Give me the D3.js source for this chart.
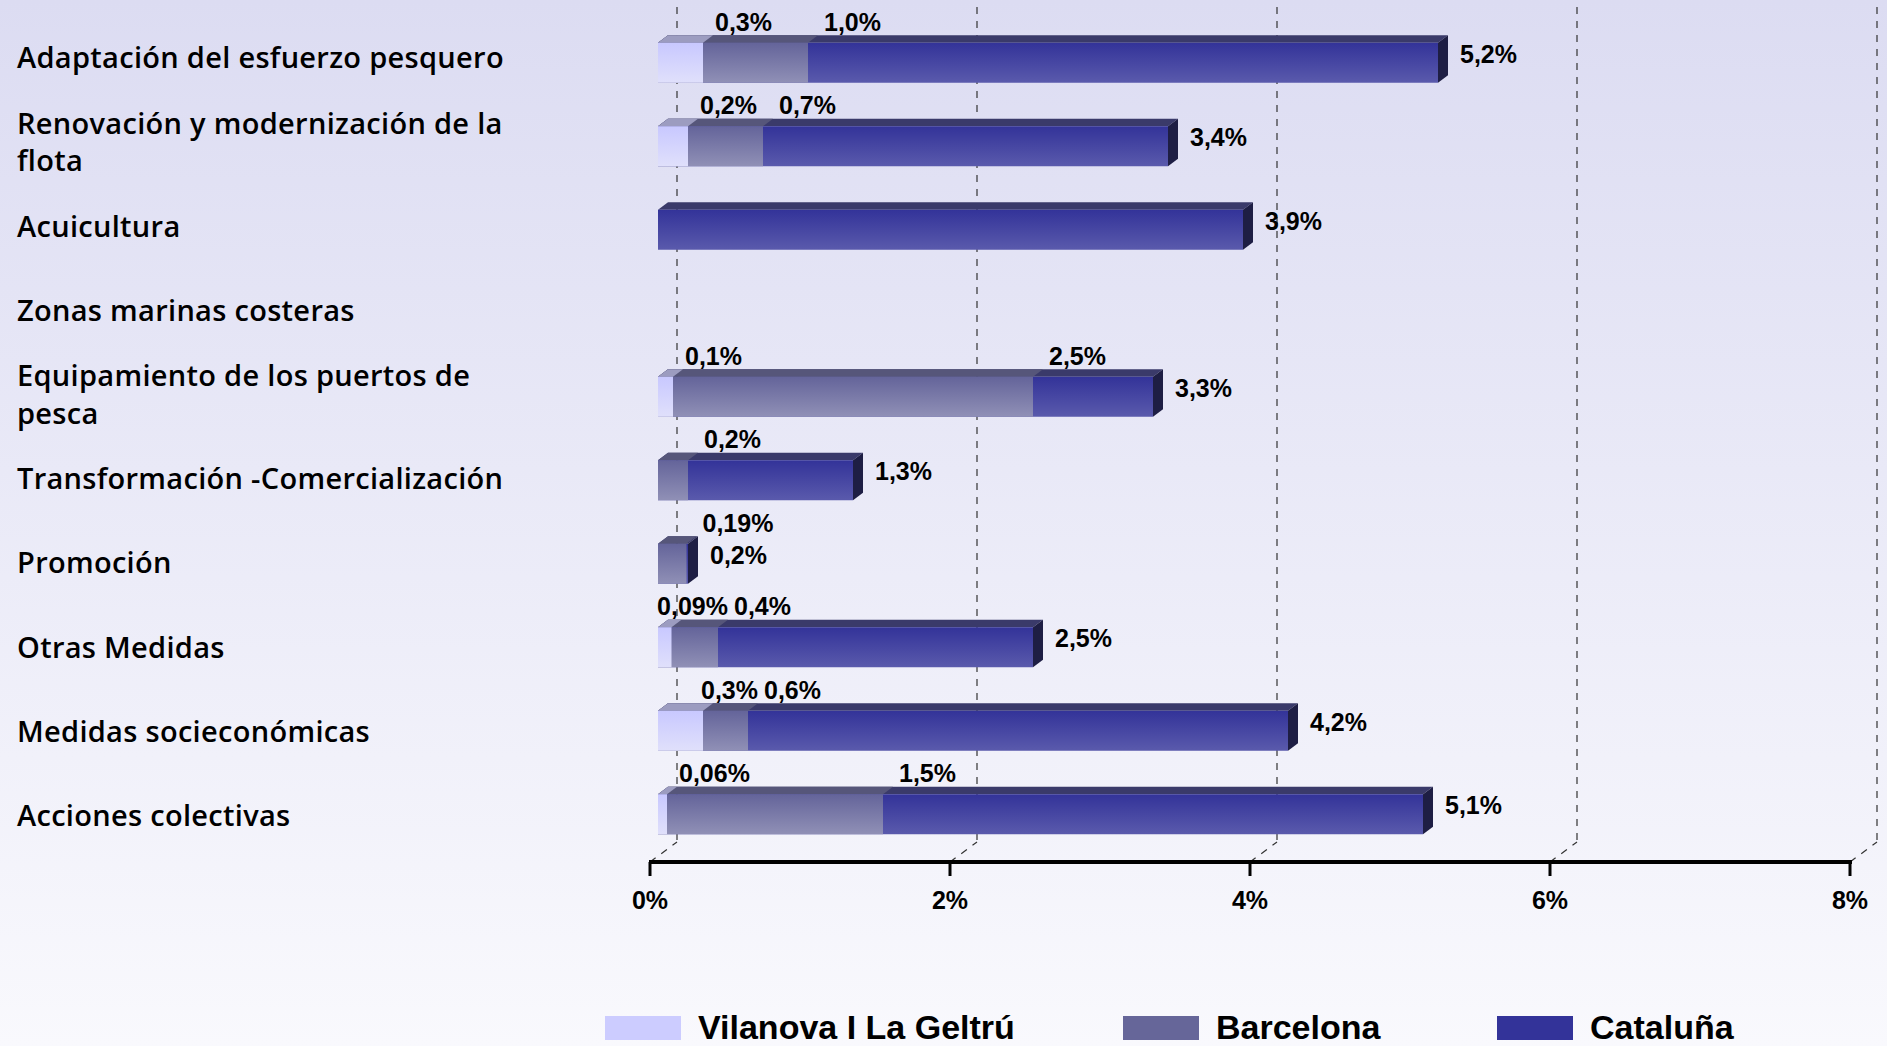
<!DOCTYPE html>
<html>
<head>
<meta charset="utf-8">
<script src="https://cdn.jsdelivr.net/npm/d3@7"></script>
<style>
  html, body { margin: 0; padding: 0; }
  body { width: 1887px; height: 1046px; overflow: hidden; }
  .cat-label { font-family: "Open Sans", Lato, sans-serif; font-weight: 600; font-size: 29px; letter-spacing: 0.3px; fill: #000; }
  .val-label { font-family: "Liberation Sans", Arial, sans-serif; font-weight: 700; font-size: 25px; fill: #000; }
  .tick-label { font-family: "Liberation Sans", Arial, sans-serif; font-weight: 700; font-size: 25px; fill: #000; }
  .legend-label { font-family: "Liberation Sans", Arial, sans-serif; font-weight: 700; font-size: 34px; fill: #000; }
</style>
</head>
<body>
<svg id="chart" width="1887" height="1046"></svg>
<script>
// ==================== Data ====================
var categories = [
	"Adaptación del esfuerzo pesquero",
	"Renovación y modernización de la flota",
	"Acuicultura",
	"Zonas marinas costeras",
	"Equipamiento de los puertos de pesca",
	"Transformación -Comercialización",
	"Promoción",
	"Otras Medidas",
	"Medidas socieconómicas",
	"Acciones colectivas"
];
var seriesNames = ["Vilanova I La Geltrú", "Barcelona", "Cataluña"];
// values in %, null = no bar
var vilanova  = [0.3, 0.2, null, null, 0.1, null, null, 0.09, 0.3, 0.06];
var barcelona = [1.0, 0.7, null, null, 2.5, 0.2, 0.19, 0.4, 0.6, 1.5];
var cataluna  = [5.2, 3.4, 3.9, null, 3.3, 1.3, 0.2, 2.5, 4.2, 5.1];
var xTicks = [0, 2, 4, 6, 8];

var seriesValues = [vilanova, barcelona, cataluna];
var legendColors = ["#ccccff", "#666699", "#333399"];
var frontColors = [["#c8c8ff", "#e0e0fb"], ["#64649a", "#9090b6"], ["#333399", "#5a5aac"]];
var topColors = ["#9c9cc0", "#56567a", "#3a3a6a"];
var sideColor = "#1e1e44";

var svg = d3.select("#chart");

// ==================== Background ====================
var defs = svg.append("defs");
var bg = defs.append("linearGradient").attr("id", "bg").attr("x1", 0).attr("y1", 0).attr("x2", 0).attr("y2", 1);
bg.append("stop").attr("offset", "0%").attr("stop-color", "#dcdcf2");
bg.append("stop").attr("offset", "100%").attr("stop-color", "#f9f9fd");
svg.append("rect").attr("width", 1887).attr("height", 1046).attr("fill", "url(#bg)");

frontColors.forEach(function(c, i) {
	var g = defs.append("linearGradient").attr("id", "front" + i).attr("x1", 0).attr("y1", 0).attr("x2", 0).attr("y2", 1);
	g.append("stop").attr("offset", "0%").attr("stop-color", c[0]);
	g.append("stop").attr("offset", "100%").attr("stop-color", c[1]);
});

// ==================== Scales ====================
var x = d3.scaleLinear().domain([0, 8]).range([650, 1850]);
var y = d3.scaleBand().domain(categories).range([27, 862]).padding(0);
var yLabel = d3.scaleBand().domain(categories).range([14.5, 856.5]).padding(0);

var wall = {dx: 27, dy: -20};      // back wall offset
var barOff = {dx: 8, dy: -6};      // bar front face offset
var barDepth = {dx: 10, dy: -7.5}; // bar thickness
var barH = 40;
var axisY = 862;

// ==================== Gridlines ====================
var grid = svg.append("g");
xTicks.forEach(function(t) {
	grid.append("line")
		.attr("x1", x(t) + wall.dx).attr("x2", x(t) + wall.dx)
		.attr("y1", 7).attr("y2", axisY + wall.dy)
		.attr("stroke", "#333").attr("stroke-width", 1.2).attr("stroke-dasharray", "7,7");
	grid.append("line")
		.attr("x1", x(t)).attr("x2", x(t) + wall.dx)
		.attr("y1", axisY).attr("y2", axisY + wall.dy)
		.attr("stroke", "#333").attr("stroke-width", 1.2).attr("stroke-dasharray", "7,7");
});

// ==================== Bars ====================
function fmt(v) {
	var one = Math.abs(Math.round(v * 10) - v * 10) < 1e-9;
	return d3.format(one ? ".1f" : ".2f")(v).replace(".", ",") + "%";
}

var bars = svg.append("g");
var labels = svg.append("g");

categories.forEach(function(cat, ci) {
	var yTop = y(cat) + (y.bandwidth() - barH) / 2 + barOff.dy;
	var yBot = yTop + barH;
	var x0 = x(0) + barOff.dx;
	var rowMax = d3.max(seriesValues, function(s) { return s[ci]; });
	// draw back series first (Cataluña), then front ones
	[2, 1, 0].forEach(function(si) {
		var v = seriesValues[si][ci];
		if (v == null) return;
		var x1 = x(v) + barOff.dx;
		bars.append("polygon")
			.attr("points", [[x0, yTop], [x0 + barDepth.dx, yTop + barDepth.dy], [x1 + barDepth.dx, yTop + barDepth.dy], [x1, yTop]].join(" "))
			.attr("fill", topColors[si]);
		bars.append("rect")
			.attr("x", x0).attr("y", yTop)
			.attr("width", x1 - x0).attr("height", barH)
			.attr("fill", "url(#front" + si + ")");
		if (v === rowMax) {
			bars.append("polygon")
				.attr("points", [[x1, yTop], [x1 + barDepth.dx, yTop + barDepth.dy], [x1 + barDepth.dx, yBot + barDepth.dy], [x1, yBot]].join(" "))
				.attr("fill", sideColor);
		}
	});

	// value labels
	var topLabels = [];
	seriesValues.forEach(function(s, si) {
		var v = s[ci];
		if (v == null) return;
		var x1 = x(v) + barOff.dx;
		if (si === 2) {
			labels.append("text").attr("class", "val-label")
				.attr("x", x1 + 22).attr("y", (yTop + yBot) / 2 - 9)
				.attr("dominant-baseline", "central")
				.text(fmt(v));
		} else {
			var t = labels.append("text").attr("class", "val-label")
				.attr("x", x1 + (si === 0 ? 12 : 16)).attr("y", yTop - 21)
				.attr("dominant-baseline", "central")
				.text(fmt(v));
			topLabels.push(t);
		}
	});
	// keep the two top labels from overlapping
	if (topLabels.length === 2) {
		var a = topLabels[0], b = topLabels[1];
		var aRight = +a.attr("x") + a.node().getComputedTextLength();
		if (aRight > +b.attr("x") - 6) {
			a.attr("x", +b.attr("x") - 6 - a.node().getComputedTextLength());
		}
	}
});

// ==================== Category labels ====================
var lineH = 37.5;
categories.forEach(function(cat) {
	var t = svg.append("text").attr("class", "cat-label").attr("x", 17);
	var words = cat.split(" "), lines = [], line = [];
	words.forEach(function(w) {
		line.push(w);
		t.text(line.join(" "));
		if (t.node().getComputedTextLength() > 500 && line.length > 1) {
			line.pop();
			lines.push(line.join(" "));
			line = [w];
		}
	});
	lines.push(line.join(" "));
	t.text(null);
	var cy = yLabel(cat) + yLabel.bandwidth() / 2;
	lines.forEach(function(l, li) {
		t.append("tspan")
			.attr("x", 17)
			.attr("y", cy + (li - (lines.length - 1) / 2) * lineH)
			.attr("dominant-baseline", "central")
			.text(l);
	});
});

// ==================== X axis ====================
var axis = svg.append("g");
axis.append("line")
	.attr("x1", x(0) - 1).attr("x2", x(8) + 2)
	.attr("y1", axisY).attr("y2", axisY)
	.attr("stroke", "#000").attr("stroke-width", 4);
axis.selectAll(".tick").data(xTicks).enter().append("line")
	.attr("x1", function(d) { return x(d); }).attr("x2", function(d) { return x(d); })
	.attr("y1", axisY).attr("y2", axisY + 14)
	.attr("stroke", "#000").attr("stroke-width", 3);
axis.selectAll(".tick-label").data(xTicks).enter().append("text")
	.attr("class", "tick-label")
	.attr("x", function(d) { return x(d); })
	.attr("y", 909)
	.attr("text-anchor", "middle")
	.text(function(d) { return d + "%"; });

// ==================== Legend ====================
var legendX = [605, 1123, 1497];
var legend = svg.append("g");
seriesNames.forEach(function(name, i) {
	legend.append("rect")
		.attr("x", legendX[i]).attr("y", 1016)
		.attr("width", 76).attr("height", 24)
		.attr("fill", legendColors[i]);
	legend.append("text").attr("class", "legend-label")
		.attr("x", legendX[i] + 93).attr("y", 1039)
		.text(name);
});
</script>
</body>
</html>
